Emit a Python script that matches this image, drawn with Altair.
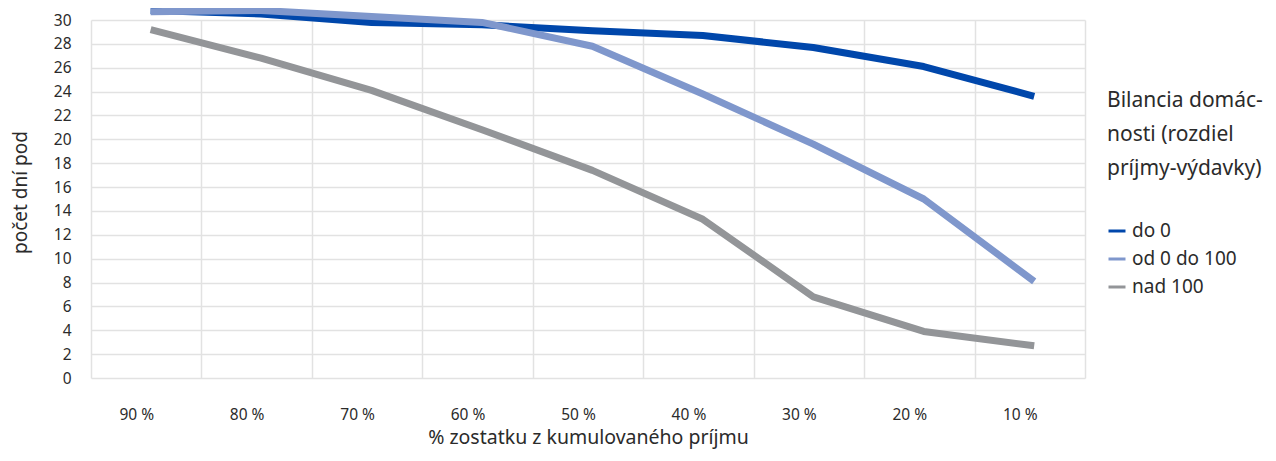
import altair as alt
import pandas as pd

categories = ["90 %", "80 %", "70 %", "60 %", "50 %", "40 %", "30 %", "20 %", "10 %"]
series_names = ["do 0", "od 0 do 100", "nad 100"]
do_0 = [30.8, 30.5, 29.8, 29.6, 29.1, 28.7, 27.7, 26.1, 23.6]
od_0_do_100 = [30.7, 30.8, 30.3, 29.8, 27.8, 23.8, 19.6, 15.0, 8.1]
nad_100 = [29.2, 26.8, 24.1, 20.8, 17.4, 13.3, 6.8, 3.9, 2.7]
colors = ["#0047AB", "#7F97CC", "#939598"]

rows = []
for name, vals in zip(series_names, [do_0, od_0_do_100, nad_100]):
    for c, v in zip(categories, vals):
        rows.append({"cat": c, "val": v, "series": name})
df = pd.DataFrame(rows)

FONT = "Noto Sans"

chart = alt.Chart(df).mark_line(strokeWidth=7, strokeCap="butt", strokeJoin="round").encode(
    x=alt.X("cat:N", sort=categories, bandPosition=0.54,
            scale=alt.Scale(type="band", paddingInner=0, paddingOuter=0),
            axis=alt.Axis(title="% zostatku z kumulovaného príjmu", labelAngle=0,
                          ticks=False, domain=False, grid=True, tickBand="extent",
                          labelPadding=29, labelOffset=-10, labelFontSize=15.5,
                          titleFontSize=19.5, titlePadding=6, titleFontWeight="normal")),
    y=alt.Y("val:Q", scale=alt.Scale(domain=[0, 30], nice=False),
            axis=alt.Axis(title="počet dní pod", values=list(range(0, 31, 2)),
                          ticks=False, domain=False, labelPadding=20, labelFontSize=15.5,
                          titleFontSize=19, titleFontWeight="normal",
                          titleX=-65, titleY=172, titleBaseline="alphabetic")),
    color=alt.Color("series:N", sort=series_names,
                    scale=alt.Scale(domain=series_names, range=colors),
                    legend=alt.Legend(title=["Bilancia domác-", "nosti (rozdiel", "príjmy-výdavky)"],
                                      orient="none", legendX=1016, legendY=70,
                                      titleFontSize=21, titleFontWeight="normal",
                                      titleLineHeight=34, titlePadding=42,
                                      labelFontSize=19, symbolType="stroke",
                                      symbolStrokeWidth=3, symbolSize=289,
                                      rowPadding=8, labelOffset=5)),
).properties(
    width=994, height=358,
    autosize=alt.AutoSizeParams(type="none"),
    padding={"left": 83, "top": 12, "right": 183, "bottom": 75},
).configure_view(stroke=None).configure_axis(
    gridColor="#e2e2e2", gridWidth=1.5, labelColor="#2b2b2b", titleColor="#2b2b2b",
    labelFont=FONT, titleFont=FONT,
).configure_legend(labelFont=FONT, titleFont=FONT, labelColor="#2b2b2b", titleColor="#2b2b2b")

chart.save("out.html", embed_options={"renderer": "svg", "actions": False})
